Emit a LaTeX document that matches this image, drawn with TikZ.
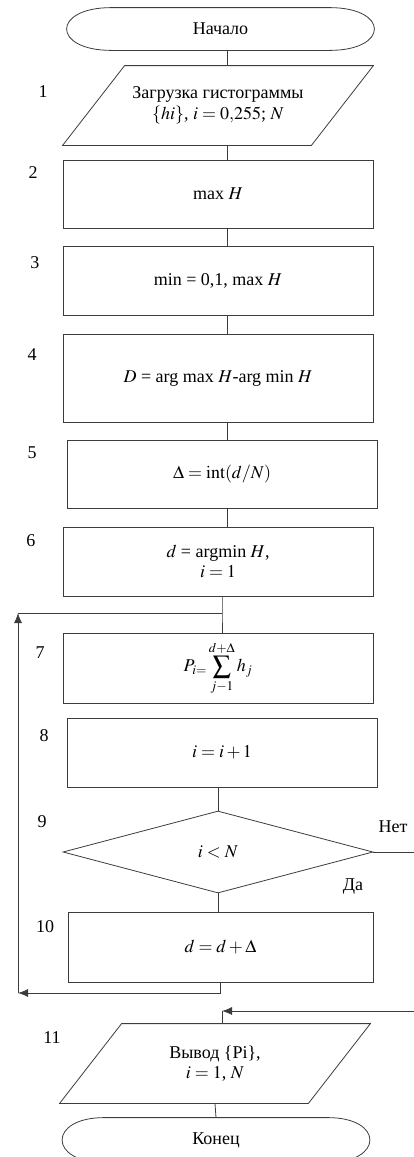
\documentclass[tikz,border=0pt]{standalone}
\usepackage{mathptmx}
\usepackage{fontspec}
\setmainfont{Liberation Serif}
\usetikzlibrary{arrows.meta,shapes.geometric}
\definecolor{ink}{HTML}{3C3C3C}
% terminal outline with elliptic ends round a bare node
\newcommand\termframe[2]{%
  \draw ([xshift=#2pt]#1.north west) -- ([xshift=-#2pt]#1.north east)
    .. controls ([xshift=#2*0.3333pt]#1.north east) and ([xshift=#2*0.3333pt]#1.south east) .. ([xshift=-#2pt]#1.south east)
    -- ([xshift=#2pt]#1.south west)
    .. controls ([xshift=-#2*0.3333pt]#1.south west) and ([xshift=-#2*0.3333pt]#1.north west) .. cycle;}
% parallelogram outline round a bare node
\newcommand\slantframe[2]{%
  \draw ([xshift=#2pt]#1.north west) -- ([xshift=#2pt]#1.north east)
    -- ([xshift=-#2pt]#1.south east) -- ([xshift=-#2pt]#1.south west) -- cycle;}

\begin{document}
\begin{tikzpicture}[x=1pt,y=-1pt,line width=.8pt,draw=ink,
  every node/.style={font=\fontsize{18}{20.5}\selectfont},
  bare/.style={inner sep=2pt,align=center},
  blk/.style={draw,inner sep=2pt,align=center,minimum width=310pt},
  num/.style={inner sep=1pt},
  arr/.style={-{Latex[length=10pt,width=8pt]}}]
\path[use as bounding box] (0,0) rectangle (414,1157);
% blocks
\node[bare,minimum width=307pt,minimum height=42pt] (start) at (220.5,29) {Начало};
\termframe{start}{45}
\node[bare,minimum width=248pt,minimum height=79pt] (b1) at (218,105.5) {Загрузка гистограммы\\ $\{hi\}$, $i = 0{,}255$; $N$};
\slantframe{b1}{31}
\node[blk,minimum height=68pt] (b2) at (218,194) {max $H$};
\node[blk,minimum height=69pt] (b3) at (218,280.5) {min = 0,1, max $H$};
\node[blk,minimum height=88pt] (b4) at (218,378) {$D$ = arg max $H$-arg min $H$};
\node[blk,minimum height=68pt] (b5) at (222,474) {$\Delta = \mathrm{int}(d/N)$};
\node[blk,minimum height=69pt] (b6) at (218,561.5) {$d$ = argmin $H$,\\ $i = 1$};
\node[blk,minimum height=70pt] (b7) at (218,668) {$P_{i=}\displaystyle\sum_{j-1}^{d+\Delta} h_j$};
\node[blk,minimum height=69pt] (b8) at (222,752.5) {$i = i+1$};
\node[draw,diamond,inner sep=0pt,minimum width=310pt,minimum height=82pt] (d9) at (218,852) {$i < N$};
\node[blk,minimum width=305pt,minimum height=70pt] (b10) at (220.5,947) {$d = d + \Delta$};
\node[bare,minimum width=248pt,minimum height=79pt] (b11) at (215,1063.5) {Вывод \{Pi\},\\ $i = 1$, $N$};
\slantframe{b11}{31}
\node[bare,minimum width=307pt,minimum height=44pt] (end) at (216,1140) {Конец};
\termframe{end}{42}
% step numbers
\node[num] (n1) at (43,92) {1};
\node[num] (n2) at (33,173) {2};
\node[num] (n3) at (35,263) {3};
\node[num] (n4) at (32,355) {4};
\node[num] (n5) at (32,453) {5};
\node[num] (n6) at (31,541) {6};
\node[num] (n7) at (40,653) {7};
\node[num] (n8) at (44,736) {8};
\node[num] (n9) at (42,822) {9};
\node[num] (n10) at (45,927) {10};
\node[num] (n11) at (52,1038) {11};
\node[num] (no) at (393,827) {Нет};
\node[num] (yes) at (353,887) {Да};
% connectors
\coordinate (spine) at (227,0);
\coordinate (joint) at (222,613);
\coordinate (loopbot) at (18,993);
\coordinate (looptop) at (18,613);
\coordinate (rside) at (418,0);
\coordinate (back) at (222,1011);
\draw (start.south -| spine) -- (b1.north -| spine);
\draw (b1.south -| spine) -- (b2.north -| spine);
\draw (b2.south -| spine) -- (b3.north -| spine);
\draw (b3.south -| spine) -- (b4.north -| spine);
\draw (b4.south -| spine) -- (b5.north -| spine);
\draw (b5.south -| spine) -- (b6.north -| spine);
\draw (b6.south -| joint) -- (joint) -- (b7.north -| joint);
\draw (b8.south -| d9.north) -- (d9.north);
\draw (d9.south) -- (b10.north -| d9.south);
\draw[arr] (b10.south) |- (loopbot);
\draw[arr] (loopbot) -- (looptop);
\draw (looptop) -- (joint);
\draw[arr] (d9.east) -| (rside |- back) -- (back);
\draw (back) -- (b11.north -| back);
\draw (b11.south) -- (end.north);
\end{tikzpicture}
\end{document}
